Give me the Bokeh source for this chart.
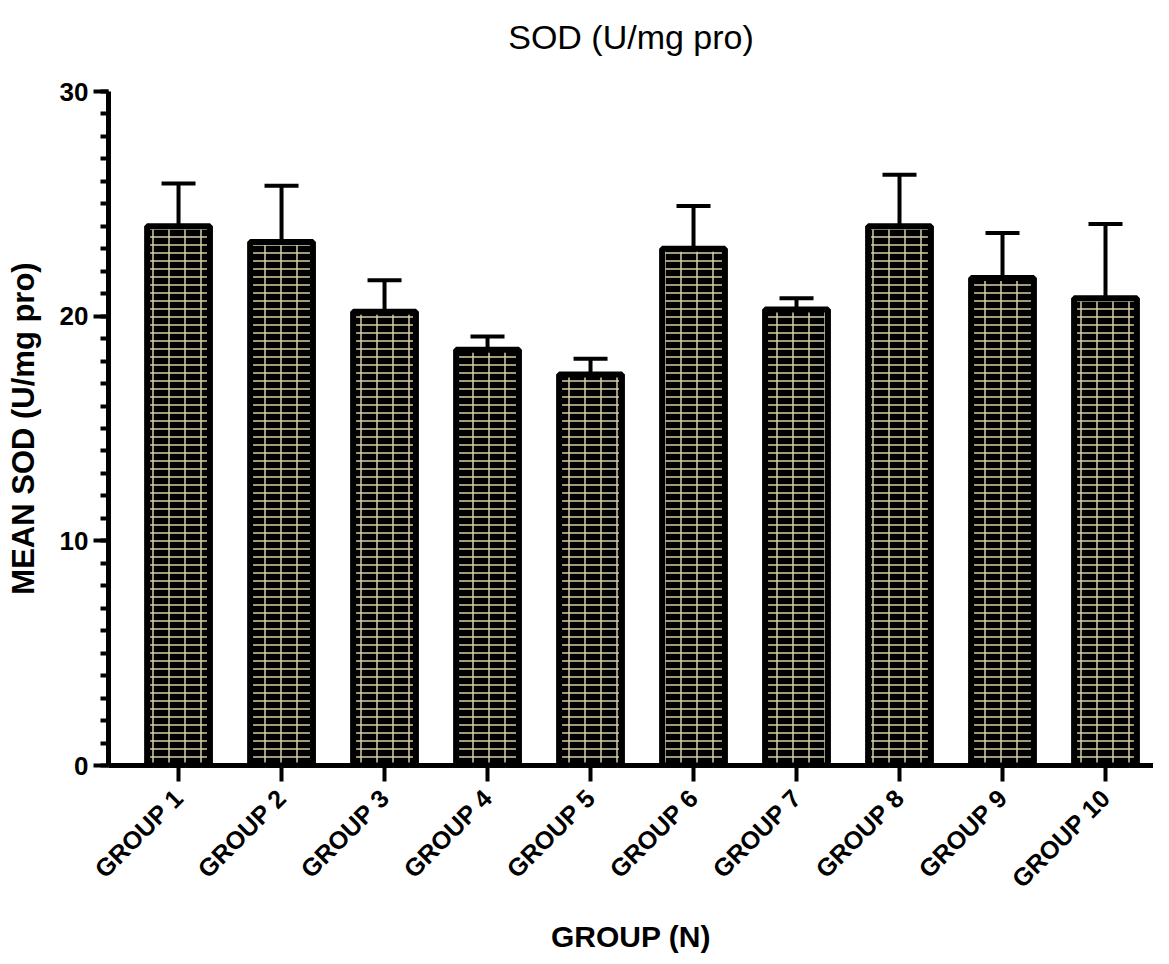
import numpy as np
from bokeh.plotting import figure
from bokeh.models import Range1d, FixedTicker, Whisker, TeeHead, ColumnDataSource, Title
from bokeh.embed import file_html
from bokeh.resources import INLINE

# ---------------- data ----------------
groups = ["GROUP 1", "GROUP 2", "GROUP 3", "GROUP 4", "GROUP 5",
          "GROUP 6", "GROUP 7", "GROUP 8", "GROUP 9", "GROUP 10"]
mean_sod = [24.0, 23.3, 20.2, 18.5, 17.4, 23.0, 20.3, 24.0, 21.7, 20.8]
sd_sod = [1.9, 2.5, 1.4, 0.6, 0.7, 1.9, 0.5, 2.3, 2.0, 3.3]
y_ticks = [0, 10, 20, 30]

title_text = "SOD (U/mg pro)"
x_label = "GROUP (N)"
y_label = "MEAN SOD (U/mg pro)"

# ---------------- figure ----------------
x = np.arange(1, len(groups) + 1)
upper = [m + s for m, s in zip(mean_sod, sd_sod)]
src = ColumnDataSource(dict(x=x, mean=mean_sod, upper=upper, group=groups))

FONT = "Liberation Sans"
MORTAR = "#d6d0a4"

xr = Range1d(0.32, 10.466)
yr = Range1d(0, max(y_ticks))

p = figure(frame_width=1045, frame_height=674, output_backend="svg",
           toolbar_location=None, x_range=xr, y_range=yr,
           min_border_left=108, min_border_right=0, min_border_top=91,
           min_border_bottom=186)
p.outline_line_color = None
p.xgrid.visible = False
p.ygrid.visible = False
p.background_fill_color = "white"
p.border_fill_color = "white"

# spacer between frame and title, then the title itself
p.add_layout(Title(text=" ", text_font_size="2px", standoff=32), "above")
p.add_layout(Title(text=title_text, align="center", text_font=FONT,
                   text_font_size="34px", text_font_style="normal",
                   text_color="black", standoff=0), "above")

whisk = Whisker(base="x", upper="upper", lower="mean", source=src,
                line_width=4, line_color="black",
                upper_head=TeeHead(size=34, line_width=4, line_color="black"),
                lower_head=None)
p.add_layout(whisk)

# bars: black bricks with khaki mortar (horizontal courses + vertical joints)
p.vbar(x="x", top="mean", bottom=0, width=0.61, source=src,
       fill_color="black", line_color=None,
       hatch_pattern="horizontal_line", hatch_scale=8, hatch_weight=1.5,
       hatch_color=MORTAR, hatch_alpha=1.0)
p.vbar(x="x", top="mean", bottom=0, width=0.61, source=src,
       fill_alpha=0, line_color="black", line_width=6,
       hatch_pattern="vertical_line", hatch_scale=16, hatch_weight=1.5,
       hatch_color=MORTAR, hatch_alpha=1.0)

# x axis
xa = p.xaxis[0]
xa.ticker = FixedTicker(ticks=[int(v) for v in x], minor_ticks=[])
xa.major_label_overrides = {int(v): g for v, g in zip(x, groups)}
xa.major_label_orientation = np.pi / 4
xa.axis_line_width = 5
xa.axis_line_color = "black"
xa.major_tick_line_width = 4
xa.major_tick_out = 16
xa.major_tick_in = 0
xa.major_label_text_font = FONT
xa.major_label_text_font_style = "bold"
xa.major_label_text_font_size = "25px"
xa.major_label_text_color = "black"
xa.major_label_standoff = 12
xa.axis_label = x_label
xa.axis_label_text_font = FONT
xa.axis_label_text_font_style = "bold"
xa.axis_label_text_font_size = "30px"
xa.axis_label_text_color = "black"
xa.axis_label_standoff = 14

# y axis
ya = p.yaxis[0]
ya.ticker = FixedTicker(ticks=y_ticks, minor_ticks=list(range(0, 31)))
ya.axis_line_width = 5
ya.axis_line_color = "black"
ya.major_tick_line_width = 4
ya.major_tick_out = 15
ya.major_tick_in = 0
ya.minor_tick_line_width = 4
ya.minor_tick_out = 8
ya.minor_tick_in = 0
ya.minor_tick_line_color = "black"
ya.major_label_text_font = FONT
ya.major_label_text_font_style = "bold"
ya.major_label_text_font_size = "26px"
ya.major_label_text_color = "black"
ya.major_label_standoff = 5
ya.axis_label = y_label
ya.axis_label_text_font = FONT
ya.axis_label_text_font_style = "bold"
ya.axis_label_text_font_size = "31px"
ya.axis_label_text_color = "black"
ya.axis_label_standoff = 16

open("out.html", "w").write(file_html(p, INLINE))
